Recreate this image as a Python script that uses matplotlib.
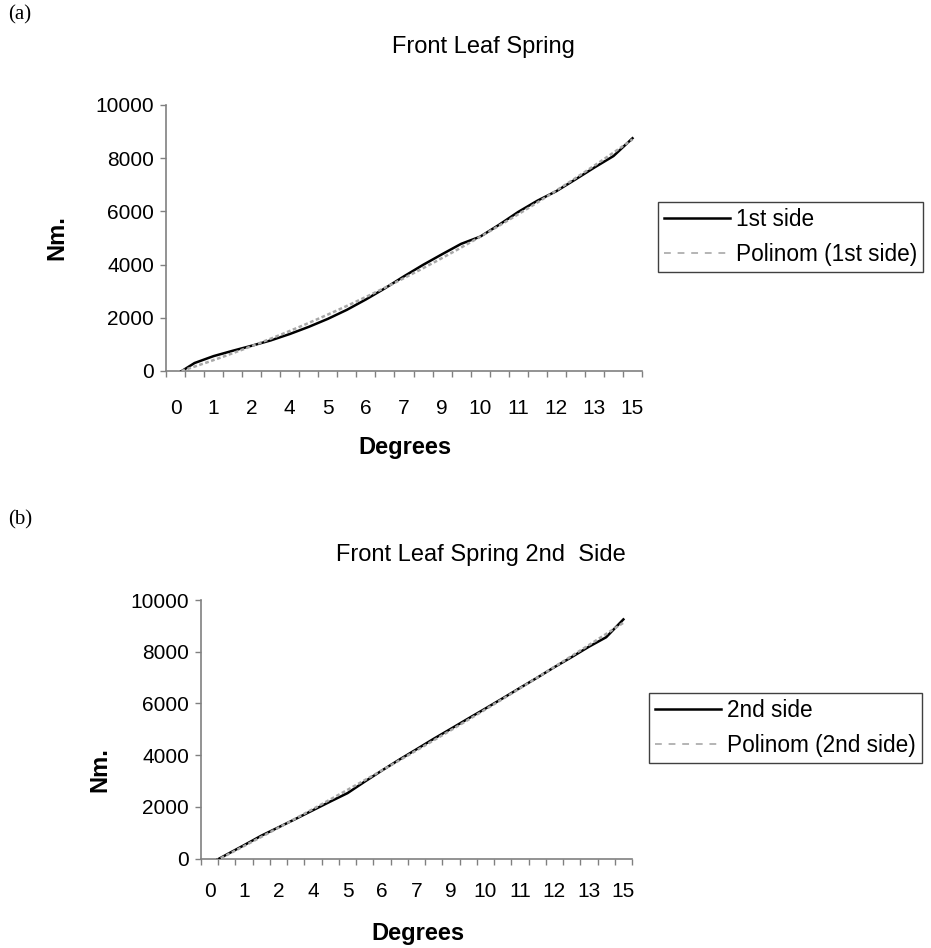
import numpy as np
import matplotlib
matplotlib.use("Agg")
import matplotlib.pyplot as plt
from matplotlib.lines import Line2D

plt.rcParams['font.family'] = ['Liberation Sans', 'DejaVu Sans']

# ---- data ----
tick_labels = ["0", "1", "2", "4", "5", "6", "7", "9", "10", "11", "12", "13", "15"]

side1 = [-150, 300, 560, 760, 950, 1150, 1390, 1660, 1960, 2300, 2690, 3110,
         3560, 3990, 4390, 4780, 5050, 5500, 5980, 6400, 6760, 7200, 7650, 8080, 8750]
side2 = [-200, 165, 523, 890, 1215, 1542, 1876, 2209, 2535, 2980, 3411, 3829,
         4230, 4636, 5024, 5418, 5806, 6200, 6601, 6997, 7405, 7793, 8194, 8560, 9250]

W, H = 931, 948
fig = plt.figure(figsize=(W / 100, H / 100), dpi=100)

FS = 17
LFS = 16.3
TFS = 15
GRAY_AX = "#808080"
TREND = "#A8A8A8"


def make_axes(l, t, r, b):
    return fig.add_axes([l / W, 1 - b / H, (r - l) / W, (b - t) / H])


def style(ax, y, name, ylabel_xy, xlabel_xy, legend_tl, xpad):
    n = len(y)
    xs = np.arange(n)
    ax.plot(xs, y, color="black", lw=1.8, solid_joinstyle="round", zorder=3)
    # Excel polynomial (2nd order) trendline on category index
    coef = np.polyfit(xs + 1, y, 2)
    xf = np.linspace(0, n - 1, 200)
    ax.plot(xf, np.polyval(coef, xf + 1), color=TREND, lw=1.8,
            linestyle=(0, (1.5, 1.0)), zorder=4)

    ax.set_xlim(-0.5, n - 0.5)
    ax.set_ylim(0, 10000)
    ax.set_yticks(np.arange(0, 10001, 2000))
    ax.set_xticks(np.arange(-0.5, n, 1.0))
    ax.set_xticklabels([])
    ax.set_xticks(np.arange(0, n, 2), minor=True)
    ax.set_xticklabels(tick_labels, minor=True)
    ax.tick_params(axis="x", which="major", direction="out", length=4.5,
                   width=1, color=GRAY_AX)
    ax.tick_params(axis="x", which="minor", length=0, pad=xpad, labelsize=TFS)
    ax.tick_params(axis="y", direction="out", length=4.5, width=1,
                   color=GRAY_AX, labelsize=TFS, pad=4)
    for s in ("top", "right"):
        ax.spines[s].set_visible(False)
    for s in ("left", "bottom"):
        ax.spines[s].set_color(GRAY_AX)
        ax.spines[s].set_linewidth(1.2)

    ax.set_ylabel("Nm.", fontsize=FS, fontweight="bold", va="center")
    ax.yaxis.set_label_coords(*ylabel_xy)
    ax.set_xlabel("Degrees", fontsize=FS, fontweight="bold", va="center")
    ax.xaxis.set_label_coords(*xlabel_xy)

    handles = [Line2D([], [], color="black", lw=1.8),
               Line2D([], [], color="#B4B4B4", lw=1.4, linestyle=(0, (3.5, 3.5)))]
    leg = fig.legend(handles, [name, f"Polinom ({name})"], loc="upper left",
                     bbox_to_anchor=(legend_tl[0] / W, 1 - legend_tl[1] / H),
                     fontsize=LFS, frameon=True, fancybox=False, shadow=False,
                     handlelength=2.9, handletextpad=0.25, labelspacing=0.5,
                     borderpad=0.28, borderaxespad=0)
    fr = leg.get_frame()
    fr.set_edgecolor("#404040")
    fr.set_linewidth(1.0)
    fr.set_alpha(1)
    return ax


ax1 = make_axes(166, 105, 642, 371)
style(ax1, side1, "1st side", (-0.229, 0.5), (0.502, -0.286), (658, 202), 20)

ax2 = make_axes(201, 600, 632, 858.7)
style(ax2, side2, "2nd side", (-0.234, 0.343), (0.503, -0.29), (649, 693), 17)

fig.text(483 / W, 1 - 47 / H, "Front Leaf Spring", fontsize=FS,
         ha="center", va="center")
fig.text(481 / W, 1 - 555 / H, "Front Leaf Spring 2nd  Side", fontsize=FS,
         ha="center", va="center")
fig.text(8 / W, 1 - 15 / H, "(a)", fontsize=15, family="Liberation Serif",
         ha="left", va="center")
fig.text(8 / W, 1 - 520 / H, "(b)", fontsize=15, family="Liberation Serif",
         ha="left", va="center")

fig.savefig("out.png", dpi=100)
